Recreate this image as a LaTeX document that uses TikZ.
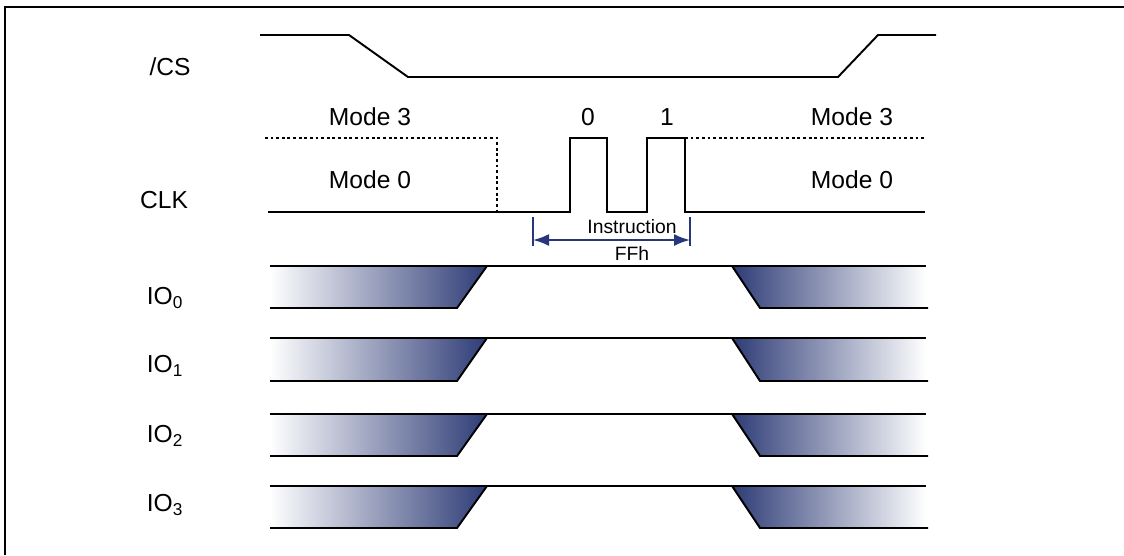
\documentclass[tikz,border=0pt]{standalone}
\usepackage{fontspec}
\setsansfont{Liberation Sans}
\usetikzlibrary{arrows.meta}
\definecolor{navy}{RGB}{46,60,118}
\definecolor{dimblue}{RGB}{40,55,125}

\begin{document}
\begin{tikzpicture}[x=0.02cm, y=-0.02cm, font=\sffamily\fontsize{14}{16}\selectfont, signal/.style={line width=1.1pt, line join=miter}, modeline/.style={line width=0.9pt, dash pattern=on 1.6pt off 1.6pt}, siglabel/.style={anchor=center, inner sep=0pt}, dimline/.style={draw=dimblue, line width=0.9pt}, dimarrow/.style={{Latex[length=3.2mm,width=2.4mm]}-{Latex[length=3.2mm,width=2.4mm]}, draw=dimblue, line width=1.1pt}]
\useasboundingbox (0,0) rectangle (1124,555);
% frame, cut off on the right and at the bottom
\draw[line width=1.4pt] (5,555) -- (5,7) -- (1124,7);

% chip select
\node[siglabel] (cs) at (170,67) {/CS};
\draw[signal] (260,35) -- (349,35) -- (408,77) -- (838,77) -- (878,35) -- (936,35);

% clock
\node[siglabel] (clk) at (164,200) {CLK};
\node[siglabel] (m3l) at (370,117) {Mode 3};
\node[siglabel] (m0l) at (370,180) {Mode 0};
\node[siglabel] (m3r) at (852,117) {Mode 3};
\node[siglabel] (m0r) at (852,180) {Mode 0};
\node[siglabel] (b0) at (588,117) {0};
\node[siglabel] (b1) at (667,117) {1};
\draw[modeline] (265,138) -- (497,138) -- (497,212);
\draw[modeline] (685,138) -- (925,138);
\draw[signal] (268,212) -- (570,212) -- (570,138) -- (607,138) -- (607,212) -- (647,212) -- (647,138) -- (685,138) -- (685,212) -- (925,212);

% instruction span
\coordinate (insA) at (533,240);
\coordinate (insB) at (690,240);
\draw[dimline] (533,217) -- (533,246);
\draw[dimline] (690,217) -- (690,246);
\draw[dimarrow] (insA) -- (insB);
\node[siglabel, font=\sffamily\fontsize{11}{13}\selectfont] (ins) at (632,227) {Instruction};
\node[siglabel, font=\sffamily\fontsize{11}{13}\selectfont] (ffh) at (632,253) {FFh};

% data lines
\foreach \t/\b/\ly/\n in {266/308/298/0, 338/381/366/1, 414/456/436/2, 486/528/505/3} {
  \node[siglabel] (io\n) at (165,\ly) {IO\textsubscript{\n}};
  \shade[left color=white, right color=navy] (270,\t) -- (487,\t) -- (457,\b) -- (270,\b) -- cycle;
  \shade[left color=navy, right color=white] (732,\t) -- (926,\t) -- (926,\b) -- (760,\b) -- cycle;
  \draw[signal] (270,\t) -- (926,\t);
  \draw[signal] (487,\t) -- (457,\b) -- (270,\b);
  \draw[signal] (732,\t) -- (760,\b) -- (928,\b);
}
\end{tikzpicture}
\end{document}
